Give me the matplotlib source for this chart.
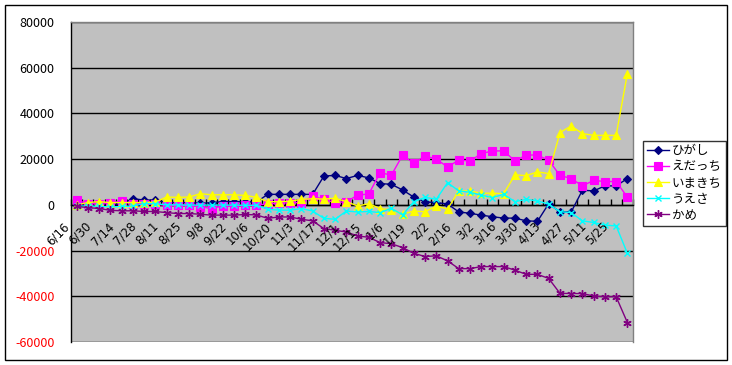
import numpy as np
import matplotlib
matplotlib.use("Agg")
import matplotlib.pyplot as plt
from matplotlib.patches import Rectangle

plt.rcParams['font.family'] = ['Noto Sans CJK JP', 'DejaVu Sans']

dates = ["6/16", "6/23", "6/30", "7/7", "7/14", "7/21", "7/28", "8/4", "8/11", "8/18",
         "8/25", "9/1", "9/8", "9/15", "9/22", "9/29", "10/6", "10/13", "10/20", "10/27",
         "11/3", "11/10", "11/17", "11/24", "12/1", "12/8", "12/15", "12/22", "1/6", "1/13",
         "1/19", "1/26", "2/2", "2/9", "2/16", "2/23", "3/2", "3/9", "3/16", "3/23",
         "3/30", "4/6", "4/13", "4/20", "4/27", "5/4", "5/11", "5/18", "5/25", "6/1"]

higashi = [0, 300, 1000, 0, 500, 2700, 2100, 2100, 1000, 1000,
           1000, 600, 1000, 1400, 1400, 1400, 1200, 4600, 4600, 4600,
           4600, 4600, 12600, 12900, 11500, 12900, 11800, 9300, 9000, 6500,
           3400, 1300, 1000, 400, -3100, -3700, -4500, -5200, -5800, -5800,
           -7000, -7200, 500, -3100, -3100, 6400, 6100, 8300, 8300, 11500]

edatchi = [2000, 500, 500, 1000, 1500, 500, 500, 300, -200, -200,
           -200, -800, -1600, -500, -500, -200, -200, 500, 700, 1000,
           1000, 3800, 2400, 1000, 1400, 4200, 4800, 14100, 13000, 21700,
           18200, 21400, 20000, 16600, 19600, 19200, 22400, 23600, 23600, 19200,
           21800, 21800, 19500, 12900, 11500, 8300, 10700, 10200, 10200, 3400]

imakichi = [0, 1000, 1400, 1000, 1000, 1000, 1000, 1200, 3400, 3300,
            3400, 4900, 4400, 4400, 4400, 4100, 3300, 1400, 1400, 1600,
            2400, 2700, 2500, 2900, 1400, -500, 500, -1600, -2200, -4100,
            -2700, -3000, -500, -1900, 6100, 6100, 5100, 5100, 4900, 13100,
            12800, 14400, 13700, 31600, 34500, 31200, 30400, 30400, 30400, 57400]

uesa = [-500, -500, -600, -900, -700, -500, 500, 500, 0, 0,
        -100, -100, -100, -100, -100, -200, -200, -1900, -2300, -2300,
        -1600, -2700, -5900, -6300, -2700, -3100, -2900, -3400, -1500, -4400,
        1400, 3300, 2400, 9700, 6100, 5500, 4200, 3200, 4600, 1400,
        2400, 1700, 300, -3000, -3400, -7000, -7700, -8900, -9200, -21200]

kame = [-700, -1200, -1600, -2400, -2600, -2600, -2900, -2900, -3400, -3800,
        -3800, -4100, -4500, -4500, -4500, -4200, -4400, -5900, -5300, -5300,
        -6300, -7000, -10400, -11100, -11900, -13600, -14200, -16500, -17000, -18700,
        -21200, -22600, -22300, -24500, -27900, -27900, -27000, -27000, -27000, -28600,
        -30400, -30400, -32200, -38700, -38800, -38800, -39900, -40200, -40200, -51500]

series_names = ["ひがし", "えだっち", "いまきち", "うえさ", "かめ"]
yticks = [-60000, -40000, -20000, 0, 20000, 40000, 60000, 80000]
ytick_labels = ["-60000", "-40000", "-20000", "0", "20000", "40000", "60000", "80000"]

W, H = 732, 365
fig = plt.figure(figsize=(W / 100, H / 100), dpi=100)
fig.patch.set_facecolor('white')
fig.patches.append(Rectangle((5 / W, 5 / H), 722 / W, 355 / H, transform=fig.transFigure,
                             fill=False, edgecolor='black', linewidth=1.0))

ax = fig.add_axes([71 / W, (H - 342) / H, 562 / W, 320 / H])
ax.set_facecolor('#C0C0C0')

x = np.arange(len(dates))
styles = [
    dict(color='#000080', marker='D', ms=4.5),
    dict(color='#FF00FF', marker='s', ms=6),
    dict(color='#FFFF00', marker='^', ms=6),
    dict(color='#00FFFF', marker='x', ms=5, mew=1.0),
    dict(color='#800080', marker=(6, 2, 0), ms=6, mew=1.0),
]
for data, name, st in zip([higashi, edatchi, imakichi, uesa, kame], series_names, styles):
    ax.plot(x, data, color=st['color'], marker=st['marker'], markersize=st['ms'],
            markeredgewidth=st.get('mew', 0.8), markerfacecolor=st['color'],
            markeredgecolor=st['color'], linewidth=1.0, label=name, zorder=3)

ax.set_xlim(-0.5, len(dates) - 0.5)
ax.set_ylim(-60000, 80000)
ax.set_yticks(yticks)
ax.set_yticklabels(ytick_labels)
for lbl, v in zip(ax.get_yticklabels(), yticks):
    lbl.set_color('red' if v < 0 else 'black')
ax.tick_params(axis='y', length=0, pad=12, labelsize=9)
ax.yaxis.grid(True, color='black', linewidth=1.0)
ax.set_axisbelow(True)

ax.spines['bottom'].set_position(('data', 0))
ax.spines['bottom'].set_color('black')
ax.spines['bottom'].set_linewidth(1.0)
ax.spines['left'].set_color('black')
ax.spines['left'].set_linewidth(1.0)
for s in ['top', 'right']:
    ax.spines[s].set_color('#808080')
    ax.spines[s].set_linewidth(1.0)

ax.set_xticks([])
ax.set_xticks(np.arange(-0.5, len(dates), 1), minor=True)
ax.tick_params(axis='x', which='minor', direction='in', length=4, width=1, color='black')

for i in range(0, len(dates), 2):
    ax.annotate(dates[i], xy=(i, 0), xycoords='data', xytext=(-7, -14),
                textcoords='offset points', rotation=45, rotation_mode='anchor',
                ha='right', va='center', fontsize=8.5, family=['DejaVu Sans'])

leg = fig.legend(loc='center left', bbox_to_anchor=(643 / W, 1 - 183 / H),
                 frameon=True, fancybox=False, edgecolor='black', fontsize=9,
                 handlelength=1.8, handletextpad=0.2, borderpad=0.3,
                 labelspacing=0.25, borderaxespad=0)
leg.get_frame().set_linewidth(1.0)

fig.savefig('out.png', dpi=100)
